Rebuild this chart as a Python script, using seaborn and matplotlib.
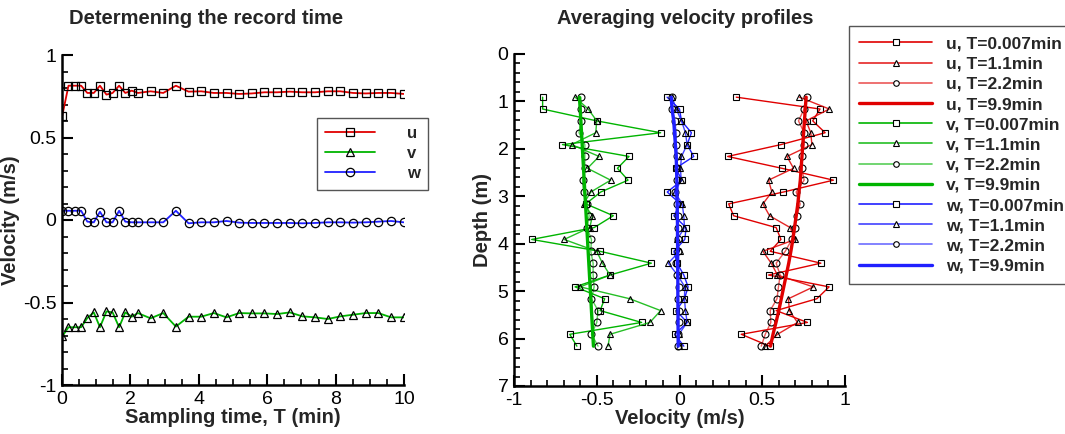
import numpy as np
import pandas as pd
import matplotlib
matplotlib.use('Agg')
import matplotlib.pyplot as plt
import matplotlib.colors as mcolors
import seaborn as sns
from matplotlib.ticker import MultipleLocator
from matplotlib.lines import Line2D

# ---------------- data: left panel (record time) ----------------
t_min = [0.007, 0.19, 0.37, 0.56, 0.74, 0.93, 1.11, 1.30, 1.48, 1.67, 1.85, 2.04, 2.22,
         2.59, 2.96, 3.33, 3.70, 4.07, 4.44, 4.81, 5.18, 5.55, 5.92, 6.29, 6.66, 7.03,
         7.40, 7.77, 8.14, 8.51, 8.88, 9.25, 9.62, 9.99]
u_t = [0.632, 0.814, 0.814, 0.814, 0.770, 0.770, 0.814, 0.760, 0.770, 0.814, 0.770, 0.784,
       0.770, 0.780, 0.770, 0.814, 0.778, 0.780, 0.770, 0.770, 0.764, 0.767, 0.774, 0.774,
       0.778, 0.774, 0.774, 0.780, 0.780, 0.770, 0.767, 0.770, 0.770, 0.764]
v_t = [-0.705, -0.650, -0.650, -0.650, -0.594, -0.560, -0.650, -0.554, -0.560, -0.650,
       -0.560, -0.586, -0.564, -0.596, -0.564, -0.646, -0.586, -0.586, -0.564, -0.590,
       -0.564, -0.566, -0.566, -0.570, -0.560, -0.584, -0.590, -0.600, -0.584, -0.574,
       -0.564, -0.564, -0.590, -0.590]
w_t = [0.056, 0.056, 0.056, 0.056, -0.010, -0.014, 0.050, -0.014, -0.014, 0.056, -0.010,
       -0.014, -0.014, -0.014, -0.014, 0.056, -0.020, -0.014, -0.014, -0.006, -0.016,
       -0.018, -0.018, -0.018, -0.018, -0.020, -0.018, -0.014, -0.014, -0.016, -0.014,
       -0.010, -0.006, -0.014]

# ---------------- data: right panel (profiles) ----------------
depth = [0.91, 1.16, 1.41, 1.66, 1.91, 2.16, 2.41, 2.66, 2.91, 3.16, 3.41, 3.66, 3.91,
         4.16, 4.41, 4.66, 4.91, 5.16, 5.41, 5.66, 5.91, 6.16]

u_T0007 = [0.343, 0.849, 0.805, 0.880, 0.613, 0.291, 0.619, 0.930, 0.628, 0.297, 0.327,
           0.584, 0.613, 0.548, 0.854, 0.538, 0.904, 0.830, 0.584, 0.773, 0.373, 0.544]
u_T11 = [0.725, 0.905, 0.765, 0.793, 0.800, 0.649, 0.689, 0.538, 0.558, 0.504, 0.544,
         0.669, 0.699, 0.504, 0.554, 0.592, 0.809, 0.658, 0.664, 0.713, 0.592, 0.518]
u_T22 = [0.769, 0.753, 0.719, 0.753, 0.753, 0.739, 0.739, 0.753, 0.705, 0.729, 0.709,
         0.695, 0.679, 0.639, 0.584, 0.608, 0.598, 0.589, 0.548, 0.552, 0.518, 0.494]
u_T99 = [0.765, 0.760, 0.755, 0.750, 0.745, 0.740, 0.735, 0.730, 0.722, 0.715, 0.705,
         0.695, 0.685, 0.673, 0.660, 0.645, 0.630, 0.615, 0.600, 0.583, 0.565, 0.550]

v_T0007 = [-0.827, -0.827, -0.500, -0.114, -0.707, -0.305, -0.375, -0.311, -0.476, -0.566,
           -0.400, -0.516, -0.893, -0.480, -0.170, -0.420, -0.631, -0.452, -0.480, -0.229,
           -0.663, -0.620]
v_T11 = [-0.631, -0.552, -0.500, -0.506, -0.652, -0.486, -0.556, -0.416, -0.536, -0.580,
         -0.526, -0.542, -0.697, -0.500, -0.466, -0.420, -0.600, -0.301, -0.114, -0.179,
         -0.420, -0.432]
v_T22 = [-0.596, -0.596, -0.596, -0.607, -0.572, -0.572, -0.572, -0.586, -0.580, -0.560,
         -0.546, -0.560, -0.532, -0.536, -0.522, -0.522, -0.516, -0.532, -0.492, -0.500,
         -0.532, -0.492]
v_T99 = [-0.605, -0.600, -0.596, -0.592, -0.588, -0.584, -0.580, -0.576, -0.572, -0.568,
         -0.564, -0.560, -0.556, -0.552, -0.548, -0.544, -0.540, -0.536, -0.532, -0.528,
         -0.524, -0.520]

w_T0007 = [-0.075, 0.000, 0.012, 0.072, 0.046, 0.086, -0.024, 0.016, -0.074, 0.005,
           -0.034, 0.040, 0.032, -0.034, -0.015, 0.026, 0.052, 0.030, -0.020, 0.046,
           -0.028, 0.026]
w_T11 = [-0.045, -0.020, 0.012, 0.036, 0.046, 0.012, 0.006, 0.010, -0.028, 0.016, 0.026,
         0.030, -0.014, 0.000, -0.068, -0.012, 0.032, 0.030, 0.036, 0.046, -0.004, -0.004]
w_T22 = [-0.048, -0.044, -0.028, -0.020, -0.020, -0.014, -0.014, -0.014, -0.030, -0.014,
         -0.010, -0.012, -0.010, -0.012, -0.020, -0.014, -0.004, -0.012, -0.006, -0.006,
         -0.008, -0.012]
w_T99 = [-0.050, -0.045, -0.035, -0.030, -0.025, -0.020, -0.018, -0.016, -0.015, -0.014,
         -0.013, -0.012, -0.012, -0.011, -0.011, -0.010, -0.010, -0.010, -0.009, -0.009,
         -0.008, -0.008]

T_labels = ['T=0.007min', 'T=1.1min', 'T=2.2min', 'T=9.9min']

# ---------------- style ----------------
sns.set_theme(style='white')
plt.rcParams['font.family'] = ['Liberation Sans', 'DejaVu Sans']

RED = '#e00000'
GREEN = '#00b400'
BLUE = '#2020ff'

fig = plt.figure(figsize=(10.65, 4.34), dpi=100)
ax1 = fig.add_axes([62 / 1065, 1 - 385 / 434, 342 / 1065, 330 / 434])
ax2 = fig.add_axes([514 / 1065, 1 - 386 / 434, 331 / 1065, 332 / 434])

# ---------------- left panel ----------------
for vals, col, mk in [(u_t, RED, 's'), (v_t, GREEN, '^'), (w_t, BLUE, 'o')]:
    sns.lineplot(x=t_min, y=vals, ax=ax1, color=col, lw=1.3, marker=mk, markersize=6,
                 markerfacecolor='none', markeredgecolor='black', markeredgewidth=0.9,
                 sort=False, estimator=None, legend=False)

ax1.set_xlim(0, 10)
ax1.set_ylim(-1, 1)
ax1.xaxis.set_major_locator(MultipleLocator(2))
ax1.xaxis.set_minor_locator(MultipleLocator(0.5))
ax1.yaxis.set_minor_locator(MultipleLocator(0.1))
ax1.set_yticks([-1, -0.5, 0, 0.5, 1])
ax1.set_yticklabels(['-1', '-0.5', '0', '0.5', '1'])
ax1.set_xlabel('Sampling time, T (min)', fontsize=14.5, fontweight='bold', labelpad=0)
ax1.set_ylabel('Velocity (m/s)', fontsize=14.5, fontweight='bold', labelpad=2)

h1 = [Line2D([], [], color=c, lw=1.3, marker=m, markersize=6, markerfacecolor='none',
             markeredgecolor='black', markeredgewidth=0.9)
      for c, m in [(RED, 's'), (GREEN, '^'), (BLUE, 'o')]]
leg1 = ax1.legend(h1, ['u', 'v', 'w'], loc='upper left',
                  bbox_to_anchor=(317 / 1065, 1 - 118 / 434), bbox_transform=fig.transFigure,
                  prop={'weight': 'bold', 'size': 12}, numpoints=1, handlelength=3.0,
                  handletextpad=1.9, borderpad=0.5, labelspacing=0.3, fancybox=False,
                  framealpha=1, edgecolor='#555555', borderaxespad=0)
leg1.get_frame().set_linewidth(1.0)

# ---------------- right panel ----------------
comp = [('u', RED, [u_T0007, u_T11, u_T22, u_T99]),
        ('v', GREEN, [v_T0007, v_T11, v_T22, v_T99]),
        ('w', BLUE, [w_T0007, w_T11, w_T22, w_T99])]
markers = ['s', '^', 'o', None]
alphas = [1.0, 0.85, 0.65, 1.0]
handles, labels = [], []
for name, col, series in comp:
    for k, vals in enumerate(series):
        thick = markers[k] is None
        lc = mcolors.to_rgba(col, alphas[k])
        kw = dict(color=lc, lw=2.4 if thick else 1.0)
        if not thick:
            kw.update(marker=markers[k], markersize=5, markerfacecolor='none',
                      markeredgecolor='black', markeredgewidth=0.8)
        sns.lineplot(x=vals, y=depth, ax=ax2, sort=False, estimator=None, legend=False, **kw)
        hk = dict(color=lc, lw=2.4 if thick else 1.2)
        if not thick:
            hk.update(marker=markers[k], markersize=4, markerfacecolor='white',
                      markeredgecolor='black', markeredgewidth=0.8)
        handles.append(Line2D([], [], **hk))
        labels.append(f'{name}, {T_labels[k]}')

ax2.set_xlim(-1, 1)
ax2.set_ylim(7, 0)
ax2.xaxis.set_minor_locator(MultipleLocator(0.1))
ax2.yaxis.set_major_locator(MultipleLocator(1))
ax2.yaxis.set_minor_locator(MultipleLocator(0.2))
ax2.set_xticks([-1, -0.5, 0, 0.5, 1])
ax2.set_xticklabels(['-1', '-0.5', '0', '0.5', '1'])
ax2.set_xlabel('Velocity (m/s)', fontsize=14.5, fontweight='bold', labelpad=0)
ax2.set_ylabel('Depth (m)', fontsize=14.5, fontweight='bold', labelpad=4)

leg2 = ax2.legend(handles, labels, loc='upper left',
                  bbox_to_anchor=(849 / 1065, 1 - 26 / 434), bbox_transform=fig.transFigure,
                  prop={'weight': 'bold', 'size': 12.5}, numpoints=1, handlelength=4.2,
                  handletextpad=0.8, borderpad=0.6, labelspacing=0.29, fancybox=False,
                  framealpha=1, edgecolor='#555555', borderaxespad=0)
leg2.get_frame().set_linewidth(1.0)

for ax in (ax1, ax2):
    sns.despine(ax=ax)
    for s in ('left', 'bottom'):
        ax.spines[s].set_linewidth(1.8)
        ax.spines[s].set_color('black')
    ax.tick_params(which='major', direction='in', length=8, width=1.5, labelsize=14,
                   colors='black', left=True, bottom=True, pad=4)
    ax.tick_params(which='minor', direction='in', length=4, width=1.2, colors='black',
                   left=True, bottom=True)
    ax.set_facecolor('white')
    ax.grid(False)

fig.text(206 / 1065, 1 - 18 / 434, 'Determening the record time', ha='center', va='center',
         fontsize=14.5, fontweight='bold')
fig.text(685 / 1065, 1 - 18 / 434, 'Averaging velocity profiles', ha='center', va='center',
         fontsize=14.5, fontweight='bold')

fig.savefig('out.png', dpi=100, facecolor='white')
